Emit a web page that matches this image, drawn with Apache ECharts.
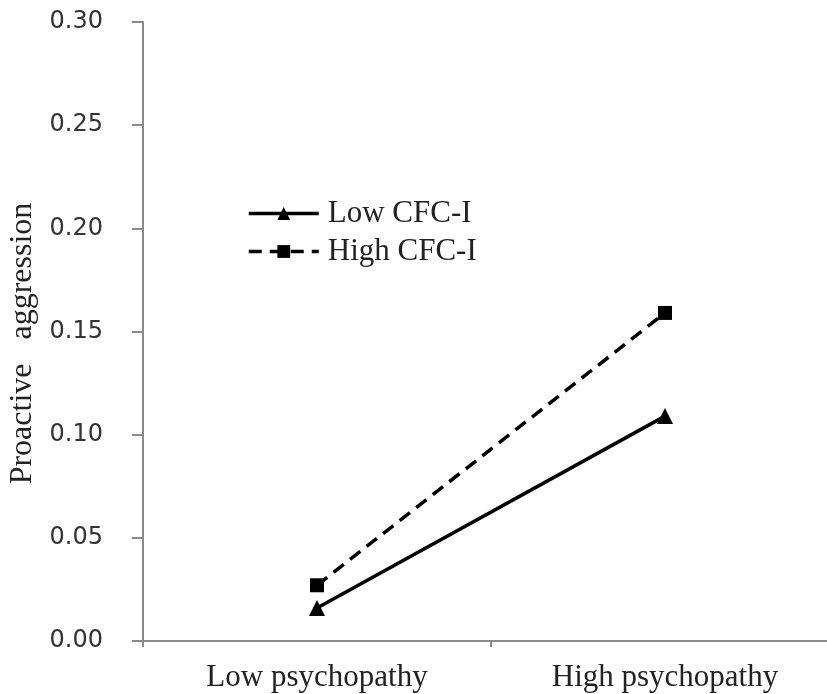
<!DOCTYPE html>
<html>
<head>
<meta charset="utf-8">
<script src="https://cdn.jsdelivr.net/npm/echarts@6/dist/echarts.min.js"></script>
<style>html,body{margin:0;padding:0;background:#fff}#c{width:827px;height:694px}</style>
</head>
<body>
<div id="c"></div>
<script>
var categories = ['Low psychopathy', 'High psychopathy'];
var lowCFC = [0.016, 0.109];
var highCFC = [0.027, 0.159];
var seriesNames = ['Low CFC-I', 'High CFC-I'];
var yTicks = { min: 0, max: 0.30, interval: 0.05 };

var chart = echarts.init(document.getElementById('c'), null, { renderer: 'canvas' });
var serif = '"Liberation Serif", "DejaVu Serif", serif';
chart.setOption({
  animation: false,
  backgroundColor: '#ffffff',
  grid: { left: 143, top: 22, bottom: 53, right: -12, containLabel: false, outerBoundsMode: 'none' },
  legend: {
    orient: 'vertical', left: 247, top: 198, itemWidth: 70, itemHeight: 16, itemGap: 7, padding: 0,
    lineStyle: { width: 3.5 },
    textStyle: { fontFamily: serif, fontSize: 31, color: '#222', padding: [0, 0, 0, 4] },
    data: seriesNames
  },
  xAxis: {
    type: 'category', data: categories, boundaryGap: true,
    axisLine: { lineStyle: { color: '#8a8a8a', width: 2 } },
    axisTick: { show: true, length: 6, lineStyle: { color: '#8a8a8a', width: 2 } },
    axisLabel: { fontFamily: serif, fontSize: 31, color: '#222', margin: 21 }
  },
  yAxis: {
    type: 'value', min: yTicks.min, max: yTicks.max, interval: yTicks.interval,
    name: 'Proactive   aggression', nameLocation: 'middle', nameGap: 101,
    nameTextStyle: { fontFamily: serif, fontSize: 32, color: '#222', padding: [0, 24, 0, 0] },
    splitLine: { show: false },
    axisLine: { show: true, lineStyle: { color: '#8a8a8a', width: 2 } },
    axisTick: { show: true, length: 11, lineStyle: { color: '#8a8a8a', width: 2 } },
    axisLabel: {
      fontFamily: '"DejaVu Sans", sans-serif', fontSize: 24, color: '#333', margin: 40,
      formatter: function (v) { return v.toFixed(2); }
    }
  },
  series: [
    {
      name: seriesNames[0], type: 'line', data: lowCFC,
      symbol: 'triangle', symbolSize: 16,
      itemStyle: { color: '#000' },
      lineStyle: { color: '#000', width: 3.5, type: 'solid' }
    },
    {
      name: seriesNames[1], type: 'line', data: highCFC,
      symbol: 'rect', symbolSize: 14,
      itemStyle: { color: '#000' },
      lineStyle: { color: '#000', width: 3.5, type: [13, 8] }
    }
  ]
});
</script>
</body>
</html>
